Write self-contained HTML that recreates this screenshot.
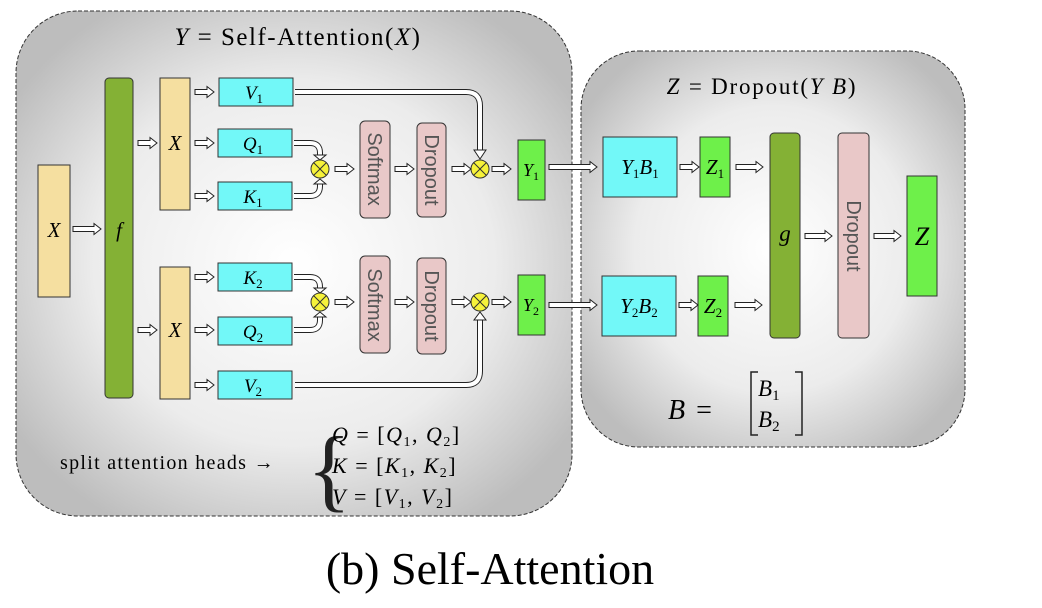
<!DOCTYPE html>
<html><head><meta charset="utf-8"><style>
html,body{margin:0;padding:0;background:#fff;}
svg{display:block;}
.m{font-family:"Liberation Serif",serif;font-style:italic;}
.r{font-family:"Liberation Serif",serif;}
.s{font-family:"Liberation Sans",sans-serif;fill:#555;}
.ar{fill:#fff;stroke:#222;stroke-width:1;}
</style></head><body>
<svg width="1042" height="608" viewBox="0 0 1042 608" xmlns="http://www.w3.org/2000/svg">
<defs>
<radialGradient id="g1" cx="50%" cy="50%" r="60%">
<stop offset="0" stop-color="#ffffff"/><stop offset="0.6" stop-color="#ececec"/><stop offset="1" stop-color="#bdbdbd"/></radialGradient>
</defs>
<rect x="16" y="11" width="556" height="505" rx="62" fill="url(#g1)" stroke="#333" stroke-dasharray="4,2" stroke-width="1"/>
<rect x="581" y="51" width="384" height="396" rx="58" fill="url(#g1)" stroke="#333" stroke-dasharray="4,2" stroke-width="1"/>

<text x="298" y="45" text-anchor="middle" font-size="25" letter-spacing="1.5" class="r"><tspan class="m">Y</tspan> = Self-Attention(<tspan class="m">X</tspan>)</text>
<text x="762" y="94" text-anchor="middle" font-size="23" letter-spacing="1.8" class="r"><tspan class="m">Z</tspan> = Dropout(<tspan class="m">Y B</tspan>)</text>

<g stroke="#333" stroke-width="1">
<rect x="38" y="165" width="32" height="132" fill="#f5dfa0"/>
<rect x="105" y="78" width="28" height="320" rx="4" fill="#84b135"/>
<rect x="160" y="78" width="30" height="132" fill="#f5dfa0"/>
<rect x="160" y="267" width="30" height="132" fill="#f5dfa0"/>
<rect x="219" y="78" width="74" height="28" fill="#72f8f8"/>
<rect x="218" y="129" width="74" height="28" fill="#72f8f8"/>
<rect x="218" y="182" width="74" height="28" fill="#72f8f8"/>
<rect x="218" y="263" width="74" height="28" fill="#72f8f8"/>
<rect x="218" y="317" width="74" height="28" fill="#72f8f8"/>
<rect x="218" y="371" width="74" height="28" fill="#72f8f8"/>
<rect x="360" y="121" width="30" height="97" rx="5" fill="#e9c8c8"/>
<rect x="417" y="123" width="29" height="94" rx="5" fill="#e9c8c8"/>
<rect x="360" y="256" width="30" height="97" rx="5" fill="#e9c8c8"/>
<rect x="417" y="258" width="29" height="96" rx="5" fill="#e9c8c8"/>
<rect x="518" y="140" width="27" height="60" fill="#6ef04a"/>
<rect x="518" y="275" width="27" height="60" fill="#6ef04a"/>
<rect x="603" y="137" width="74" height="60" fill="#72f8f8"/>
<rect x="700" y="137" width="30" height="60" fill="#6ef04a"/>
<rect x="602" y="276" width="74" height="60" fill="#72f8f8"/>
<rect x="698" y="276" width="30" height="60" fill="#6ef04a"/>
<rect x="770" y="133" width="30" height="205" rx="4" fill="#84b135"/>
<rect x="838" y="133" width="31" height="205" rx="4" fill="#e9c8c8"/>
<rect x="907" y="176" width="30" height="120" fill="#6ef04a"/>
</g>
<g stroke="#333" stroke-width="1" fill="#f6f23a">
<circle cx="320" cy="169" r="9"/><circle cx="480" cy="169" r="9"/>
<circle cx="320" cy="302" r="9"/><circle cx="480" cy="302" r="9"/>
</g>
<g stroke="#333" stroke-width="1">
<path d="M313.6,162.6 L326.4,175.4 M326.4,162.6 L313.6,175.4"/>
<path d="M473.6,162.6 L486.4,175.4 M486.4,162.6 L473.6,175.4"/>
<path d="M313.6,295.6 L326.4,308.4 M326.4,295.6 L313.6,308.4"/>
<path d="M473.6,295.6 L486.4,308.4 M486.4,295.6 L473.6,308.4"/>
</g>

<g>
<path class="ar" d="M73,226.5 H94 V223.5 L101,229 L94,234.5 V231.5 H73 Z"/>
<path id="sa" class="ar" d="M0,-2.5 H12 V-5.5 L19,0 L12,5.5 V2.5 H0 Z" transform="translate(195,92)"/>
<use href="#sa" transform="translate(0,51)"/>
<use href="#sa" transform="translate(0,104)"/>
<use href="#sa" transform="translate(0,185)"/>
<use href="#sa" transform="translate(0,238)"/>
<use href="#sa" transform="translate(0,293)"/>
<use href="#sa" transform="translate(-57,51)"/>
<use href="#sa" transform="translate(-57,238)"/>
<use href="#sa" transform="translate(140,77)"/>
<use href="#sa" transform="translate(200,77)"/>
<use href="#sa" transform="translate(257,77)"/>
<use href="#sa" transform="translate(297,77)"/>
<use href="#sa" transform="translate(140,210)"/>
<use href="#sa" transform="translate(200,210)"/>
<use href="#sa" transform="translate(257,210)"/>
<use href="#sa" transform="translate(297,210)"/>
<use href="#sa" transform="translate(485,75)"/>
<use href="#sa" transform="translate(484,213)"/>
<path class="ar" d="M549,164.5 H590 V161.5 L597,167 L590,172.5 V169.5 H549 Z"/>
<path class="ar" d="M549,302.5 H590 V299.5 L597,305 L590,310.5 V307.5 H549 Z"/>
<path class="ar" d="M736,164.5 H756 V161.5 L763,167 L756,172.5 V169.5 H736 Z"/>
<path class="ar" d="M735,302.5 H755 V299.5 L762,305 L755,310.5 V307.5 H735 Z"/>
<path class="ar" d="M805,233.5 H825 V230.5 L832,236 L825,241.5 V238.5 H805 Z"/>
<path class="ar" d="M874,233.5 H894 V230.5 L901,236 L894,241.5 V238.5 H874 Z"/>
</g>
<g fill="none">
<g stroke="#222" stroke-width="6">
<path d="M295,92 H466 Q480,92 480,106 V150"/>
<path d="M294,143 H310 Q320,143 320,153 V155"/>
<path d="M294,196 H310 Q320,196 320,186 V184"/>
<path d="M294,277 H310 Q320,277 320,287 V288"/>
<path d="M294,330 H310 Q320,330 320,320 V317"/>
<path d="M295,385 H466 Q480,385 480,371 V320"/>
</g>
<g stroke="#fff" stroke-width="4">
<path d="M295,92 H466 Q480,92 480,106 V151"/>
<path d="M294,143 H310 Q320,143 320,153 V156"/>
<path d="M294,196 H310 Q320,196 320,186 V183"/>
<path d="M294,277 H310 Q320,277 320,287 V289"/>
<path d="M294,330 H310 Q320,330 320,320 V316"/>
<path d="M295,385 H466 Q480,385 480,371 V319"/>
</g>
</g>
<polygon class="ar" points="474,150 486,150 480,159"/>
<polygon class="ar" points="314,155 326,155 320,160"/>
<polygon class="ar" points="314,184 326,184 320,179"/>
<polygon class="ar" points="314,288 326,288 320,293"/>
<polygon class="ar" points="314,317 326,317 320,312"/>
<polygon class="ar" points="474,320 486,320 480,312"/>

<g class="m" font-size="21" text-anchor="middle">
<text x="54" y="237">X</text>
<text x="119" y="237">f</text>
<text x="175" y="150">X</text>
<text x="175" y="337">X</text>
<text x="254" y="99" font-size="19">V<tspan font-size="13" dy="4" class="r" font-style="normal">1</tspan></text>
<text x="253" y="150" font-size="19">Q<tspan font-size="13" dy="4" class="r" font-style="normal">1</tspan></text>
<text x="253" y="203" font-size="19">K<tspan font-size="13" dy="4" class="r" font-style="normal">1</tspan></text>
<text x="253" y="284" font-size="19">K<tspan font-size="13" dy="4" class="r" font-style="normal">2</tspan></text>
<text x="253" y="338" font-size="19">Q<tspan font-size="13" dy="4" class="r" font-style="normal">2</tspan></text>
<text x="253" y="392" font-size="19">V<tspan font-size="13" dy="4" class="r" font-style="normal">2</tspan></text>
<text x="531" y="176" font-size="18">Y<tspan font-size="12" dy="4" class="r" font-style="normal">1</tspan></text>
<text x="531" y="311" font-size="18">Y<tspan font-size="12" dy="4" class="r" font-style="normal">2</tspan></text>
<text x="640" y="174" font-size="21">Y<tspan font-size="13" dy="4" class="r" font-style="normal">1</tspan><tspan dy="-4">B</tspan><tspan font-size="13" dy="4" class="r" font-style="normal">1</tspan></text>
<text x="639" y="313" font-size="21">Y<tspan font-size="13" dy="4" class="r" font-style="normal">2</tspan><tspan dy="-4">B</tspan><tspan font-size="13" dy="4" class="r" font-style="normal">2</tspan></text>
<text x="715" y="174" font-size="21">Z<tspan font-size="13" dy="4" class="r" font-style="normal">1</tspan></text>
<text x="713" y="313" font-size="21">Z<tspan font-size="13" dy="4" class="r" font-style="normal">2</tspan></text>
<text x="785" y="241" font-size="23">g</text>
<text x="922" y="245" font-size="26">Z</text>
</g>
<g class="s" font-size="20">
<text transform="translate(368,169) rotate(90)" text-anchor="middle">Softmax</text>
<text transform="translate(425,170) rotate(90)" text-anchor="middle">Dropout</text>
<text transform="translate(368,305) rotate(90)" text-anchor="middle">Softmax</text>
<text transform="translate(425,306) rotate(90)" text-anchor="middle">Dropout</text>
<text transform="translate(847,236) rotate(90)" text-anchor="middle">Dropout</text>
</g>

<text x="60" y="469" font-size="20" letter-spacing="1.3" class="r">split attention heads →</text>
<text x="307" y="500" font-size="92" class="r" fill="#222">{</text>
<g class="r" font-size="22" letter-spacing="1.5">
<text x="332" y="442"><tspan class="m">Q</tspan> = [<tspan class="m">Q</tspan><tspan font-size="14" dy="4">1</tspan><tspan dy="-4">, </tspan><tspan class="m">Q</tspan><tspan font-size="14" dy="4">2</tspan><tspan dy="-4">]</tspan></text>
<text x="332" y="473"><tspan class="m">K</tspan> = [<tspan class="m">K</tspan><tspan font-size="14" dy="4">1</tspan><tspan dy="-4">, </tspan><tspan class="m">K</tspan><tspan font-size="14" dy="4">2</tspan><tspan dy="-4">]</tspan></text>
<text x="332" y="504"><tspan class="m">V</tspan> = [<tspan class="m">V</tspan><tspan font-size="14" dy="4">1</tspan><tspan dy="-4">, </tspan><tspan class="m">V</tspan><tspan font-size="14" dy="4">2</tspan><tspan dy="-4">]</tspan></text>
</g>
<text x="668" y="419" font-size="28" letter-spacing="2" class="r"><tspan class="m">B</tspan> =</text>
<path d="M758,372 H751 V435 H758 M795,372 H802 V435 H795" fill="none" stroke="#222" stroke-width="1.5"/>
<text x="758" y="396" font-size="23" class="m">B<tspan font-size="15" dy="4" class="r" font-style="normal">1</tspan></text>
<text x="758" y="427" font-size="23" class="m">B<tspan font-size="15" dy="4" class="r" font-style="normal">2</tspan></text>

<text x="490" y="584" font-size="46" class="r" text-anchor="middle">(b) Self-Attention</text>
</svg>
</body></html>
